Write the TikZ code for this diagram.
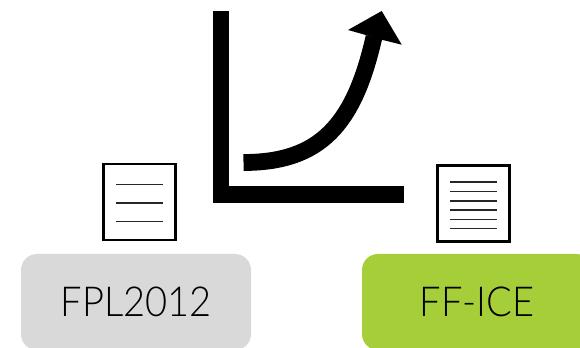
\documentclass[tikz,border=0pt]{standalone}
\usepackage{fontspec}
\setmainfont[FakeStretch=0.92]{Lato Light}
\definecolor{boxgrey}{HTML}{D9D9D9}
\definecolor{boxgreen}{HTML}{A6CE39}
\tikzset{
  x=0.75pt,y=-0.75pt,
  tagbox/.style={rounded corners=12pt,inner sep=0pt,outer sep=0pt,minimum width=172.5pt,minimum height=72pt,text=black,font=\fontsize{31pt}{36pt}\selectfont},
  docbox/.style={draw=black,line width=1.9pt,fill=white,inner sep=0pt,outer sep=0pt,minimum width=54pt,minimum height=57pt},
  docline/.style={draw=black!85,line width=1pt},
  heavy/.style={draw=black,line width=12.6pt,line cap=butt,line join=miter}
}
\begin{document}
\begin{tikzpicture}
\useasboundingbox (0,0) rectangle (580,348);
\clip (0,0) rectangle (580,348);
\node[tagbox,fill=boxgrey] (fpl) at (136,302) {FPL2012};
\node[tagbox,fill=boxgreen] (ice) at (477,302) {FF-ICE};
\node[docbox] (doca) at (139.5,202.2) {};
\node[docbox] (docb) at (473.7,203.3) {};
\foreach \y in {184.7,203,221.7} \draw[docline] (116,\y) -- (163,\y);
\foreach \y in {182,191.5,201,210,219.2,228.7} \draw[docline] (450,\y) -- (497,\y);
\draw[heavy] (221,11) -- (221,194.5) -- (404,194.5);
\draw[heavy] (243.5,162.5) .. controls (320,162.5) and (354,125) .. (374,37);
\fill[black] (381.7,11) -- (348,30) -- (365.7,35) -- (382.7,40) -- (401.7,44.7) -- cycle;
\end{tikzpicture}
\end{document}
